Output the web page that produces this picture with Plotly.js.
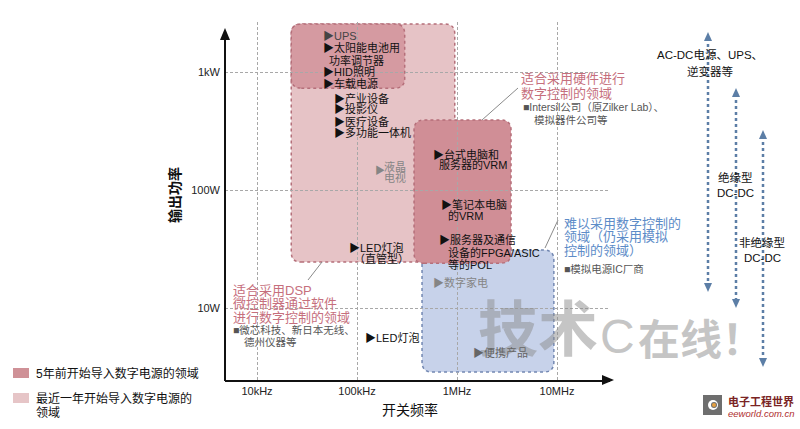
<!DOCTYPE html>
<html>
<head>
<meta charset="utf-8">
<script src="https://cdn.plot.ly/plotly-3.0.1.min.js"></script>
<style>html,body{margin:0;padding:0;background:#fff;}#chart{width:800px;height:429px;}</style>
</head>
<body>
<div id="chart"></div>
<script>
// ---------- data ----------
const freqTickVals = [1e4, 1e5, 1e6, 1e7];
const freqTickText = ['10kHz', '100kHz', '1MHz', '10MHz'];
const powerTickVals = [10, 100, 1000];
const powerTickText = ['10W', '100W', '1kW'];

// regions: recent-year (light), 5-year top-left (dark), analog (blue), hardware (dark)
const regionFreqLo = [22e3, 22e3, 447e3, 372e3];
const regionFreqHi = [950e3, 300e3, 9.3e6, 3.47e6];
const regionPowLo  = [24.5, 730, 2.87, 24];
const regionPowHi  = [2550, 2550, 31, 392];

// ---------- layout helpers ----------
const W = 800, H = 429;
const px = x => x / W;
const py = y => 1 - y / H;
const X_RANGE = [3.68, 7.53], Y_RANGE = [0.39, 3.4237];
const X_DOM = [px(225), px(610)], Y_DOM = [py(380), py(22)];
const PPD_X = (X_DOM[1] - X_DOM[0]) * W / (X_RANGE[1] - X_RANGE[0]);
const PPD_Y = (Y_DOM[1] - Y_DOM[0]) * H / (Y_RANGE[1] - Y_RANGE[0]);

const regionFill   = ['#e6c3c6', '#d59aa1', '#c7d2ea', '#d08e96'];
const regionBorder = ['#b56f7a', '#b56f7a', '#7388b2', '#b56f7a'];

function roundRect(xlo, xhi, ylo, yhi, r) {
  const fx = Math.pow(10, r / PPD_X), fy = Math.pow(10, r / PPD_Y);
  return `M ${xlo*fx},${ylo} L ${xhi/fx},${ylo} Q ${xhi},${ylo} ${xhi},${ylo*fy} ` +
         `L ${xhi},${yhi/fy} Q ${xhi},${yhi} ${xhi/fx},${yhi} L ${xlo*fx},${yhi} ` +
         `Q ${xlo},${yhi} ${xlo},${yhi/fy} L ${xlo},${ylo*fy} Q ${xlo},${ylo} ${xlo*fx},${ylo} Z`;
}

const shapes = [];
regionFreqLo.forEach((_, i) => {
  shapes.push({
    type: 'path', xref: 'x', yref: 'y', layer: 'below',
    path: roundRect(regionFreqLo[i], regionFreqHi[i], regionPowLo[i], regionPowHi[i], 10),
    fillcolor: regionFill[i],
    line: {color: regionBorder[i], width: 1.5, dash: 'dot'}
  });
});

function pline(x0, y0, x1, y1, color, width, dash) {
  shapes.push({type: 'line', xref: 'paper', yref: 'paper',
    x0: px(x0), y0: py(y0), x1: px(x1), y1: py(y1),
    line: {color: color, width: width, dash: dash || 'solid'}});
}
function tri(x, y, dir, w, h, color) {
  let p;
  if (dir === 'up')    p = [[x, y], [x - w/2, y + h], [x + w/2, y + h]];
  if (dir === 'down')  p = [[x, y], [x - w/2, y - h], [x + w/2, y - h]];
  if (dir === 'right') p = [[x, y], [x - h, y - w/2], [x - h, y + w/2]];
  shapes.push({type: 'path', xref: 'paper', yref: 'paper',
    path: `M ${px(p[0][0])},${py(p[0][1])} L ${px(p[1][0])},${py(p[1][1])} L ${px(p[2][0])},${py(p[2][1])} Z`,
    fillcolor: color, line: {width: 0}});
}

// y axis line (drawn to stop below the arrow) and arrowheads
pline(225, 381, 225, 36, '#111', 2);
tri(225, 28, 'up', 10, 12, '#111');
tri(614, 380, 'right', 10, 12, '#111');

// leader lines
pline(322, 262, 308, 280, '#8a8a8a', 1);
pline(518, 88, 482, 120, '#8a8a8a', 1);
pline(558, 220, 545, 248, '#8a8a8a', 1);

// right-side dashed arrows
const arrowCol = '#5c7ea6';
[[708, 32, 292], [736, 88, 308], [763, 130, 367]].forEach(a => {
  pline(a[0], a[1] + 6, a[0], a[2] - 6, arrowCol, 2.5, 'dot');
  tri(a[0], a[1], 'up', 8, 9, arrowCol);
  tri(a[0], a[2], 'down', 8, 9, arrowCol);
});

// legend swatches
shapes.push({type: 'rect', xref: 'paper', yref: 'paper', x0: px(13), x1: px(29), y0: py(378), y1: py(368), fillcolor: '#cf9197', line: {width: 0}});
shapes.push({type: 'rect', xref: 'paper', yref: 'paper', x0: px(13), x1: px(29), y0: py(403), y1: py(393), fillcolor: '#e6c5c7', line: {width: 0}});

// logo
shapes.push({type: 'rect', xref: 'paper', yref: 'paper', x0: px(703), x1: px(722), y0: py(415), y1: py(395), fillcolor: '#6e6e6e', line: {width: 0}});
shapes.push({type: 'circle', xref: 'paper', yref: 'paper', x0: px(708), x1: px(718), y0: py(410), y1: py(400), fillcolor: '#ffffff', line: {width: 0}});
shapes.push({type: 'circle', xref: 'paper', yref: 'paper', x0: px(711), x1: px(717), y0: py(408), y1: py(402), fillcolor: '#6e6e6e', line: {width: 0}});
shapes.push({type: 'circle', xref: 'paper', yref: 'paper', x0: px(712), x1: px(716), y0: py(407), y1: py(403), fillcolor: '#e6a040', line: {width: 0}});

// ---------- text ----------
const FONT = 'Liberation Sans, Noto Sans CJK SC, sans-serif';
const annotations = [];
function lab(x, y, text, size, color, opt) {
  opt = opt || {};
  annotations.push(Object.assign({
    xref: 'paper', yref: 'paper', x: px(x), y: py(y), text: text, showarrow: false,
    xanchor: 'left', yanchor: 'middle',
    font: {family: FONT, size: size, color: color, weight: opt.weight || 'normal', style: opt.style || 'normal'}
  }, opt.extra || {}));
}
const BLK = '#111', GRY = '#858585', PINK = '#c66f7d', BLUE = '#5d8cc8', DGRY = '#555';

// watermark (under labels)
lab(476, 330, '技术', 60, 'rgba(140,140,140,0.5)', {weight: 'bold'});
lab(598, 336, 'C', 48, 'rgba(140,140,140,0.5)');
lab(636, 340, '在线！', 42, 'rgba(140,140,140,0.5)', {weight: 'bold'});

// top-left dark region
lab(321, 36, '▶UPS', 11, '#444');
lab(321, 48, '▶太阳能电池用', 11, BLK);
lab(327, 60, '功率调节器', 11, BLK);
lab(321, 72, '▶HID照明', 11, BLK);
lab(321, 83, '▶车载电源', 11, BLK);
// light region
lab(332, 98, '▶产业设备', 11, BLK);
lab(332, 109, '▶投影仪', 11, BLK);
lab(332, 121, '▶医疗设备', 11, BLK);
lab(332, 132, '▶多功能一体机', 11, BLK);
lab(373, 171, '▶', 10, GRY);
lab(382, 166, '液晶', 11, GRY);
lab(382, 178, '电视', 11, GRY);
lab(347, 247, '▶LED灯泡', 11, BLK);
lab(352, 258, '（直管型）', 11, BLK);
// hardware region
lab(431, 154, '▶台式电脑和', 11, BLK);
lab(437, 165, '服务器的VRM', 11, BLK);
lab(439, 204, '▶笔记本电脑', 11, BLK);
lab(446, 215, '的VRM', 11, BLK);
lab(437, 240, '▶服务器及通信', 11, BLK);
lab(446, 252, '设备的FPGA/ASIC', 11, BLK);
lab(446, 264, '等的POL', 11, BLK);
// blue region
lab(431, 282, '▶数字家电', 11, GRY);
lab(471, 352, '▶便携产品', 11, '#666');
// outside
lab(363, 337, '▶LED灯泡', 11, BLK);

// captions
lab(231, 290, '适合采用DSP', 13, PINK);
lab(231, 303, '微控制器通过软件', 13, PINK);
lab(231, 317, '进行数字控制的领域', 13, PINK);
lab(231, 330, '■微芯科技、新日本无线、', 10.5, DGRY);
lab(242, 342, '德州仪器等', 10.5, DGRY);

lab(519, 78, '适合采用硬件进行', 13, PINK);
lab(519, 93, '数字控制的领域', 13, PINK);
lab(521, 107, '■Intersil公司（原Zilker Lab）、', 10.5, DGRY);
lab(532, 120, '模拟器件公司等', 10.5, DGRY);

lab(562, 223, '难以采用数字控制的', 13, BLUE);
lab(562, 237, '领域（仍采用模拟', 13, BLUE);
lab(562, 251, '控制的领域）', 13, BLUE);
lab(562, 269, '■模拟电源IC厂商', 10.5, DGRY);

// right arrow labels
const ctr = {xanchor: 'center'};
lab(710, 55, 'AC-DC电源、UPS、', 11.5, BLK, {extra: ctr});
lab(710, 72, '逆变器等', 11.5, BLK, {extra: ctr});
lab(735, 177, '绝缘型', 11.5, BLK, {extra: ctr});
lab(735, 193, 'DC-DC', 11.5, BLK, {extra: ctr});
lab(762, 242, '非绝缘型', 11.5, BLK, {extra: ctr});
lab(762, 258, 'DC-DC', 11.5, BLK, {extra: ctr});

// legend
lab(34, 373, '5年前开始导入数字电源的领域', 12, BLK);
lab(34, 398, '最近一年开始导入数字电源的', 12, BLK);
lab(34, 413, '领域', 12, BLK);

// axis titles
lab(175, 195, '输出功率', 14, BLK, {weight: 'bold', extra: {xanchor: 'center', textangle: -90}});
lab(410, 410, '开关频率', 14, BLK, {extra: ctr});

// logo text
lab(726, 401, '电子工程世界', 11, '#7a2424', {weight: 'bold'});
lab(726, 413, 'eeworld.com.cn', 9.5, '#b03030', {style: 'italic'});

const layout = {
  width: W, height: H, autosize: false,
  margin: {l: 0, r: 0, t: 0, b: 0, pad: 0},
  paper_bgcolor: '#ffffff', plot_bgcolor: 'rgba(0,0,0,0)',
  showlegend: false,
  font: {family: FONT, size: 11, color: '#222'},
  xaxis: {
    type: 'log', range: X_RANGE, domain: X_DOM,
    tickvals: freqTickVals, ticktext: freqTickText,
    showgrid: true, gridcolor: '#a8a8a8', gridwidth: 1, griddash: '3px,2px',
    showline: true, linecolor: '#111', linewidth: 2,
    zeroline: false, ticks: '', tickfont: {family: FONT, size: 11, color: '#222'}
  },
  yaxis: {
    type: 'log', range: Y_RANGE, domain: Y_DOM,
    tickvals: powerTickVals, ticktext: powerTickText,
    showgrid: true, gridcolor: '#a8a8a8', gridwidth: 1, griddash: '3px,2px',
    showline: false,
    zeroline: false, ticks: '', ticklabelstandoff: 4,
    tickfont: {family: FONT, size: 11, color: '#222'}
  },
  shapes: shapes,
  annotations: annotations
};

Plotly.newPlot('chart', [], layout, {staticPlot: true, displayModeBar: false});
</script>
</body>
</html>
